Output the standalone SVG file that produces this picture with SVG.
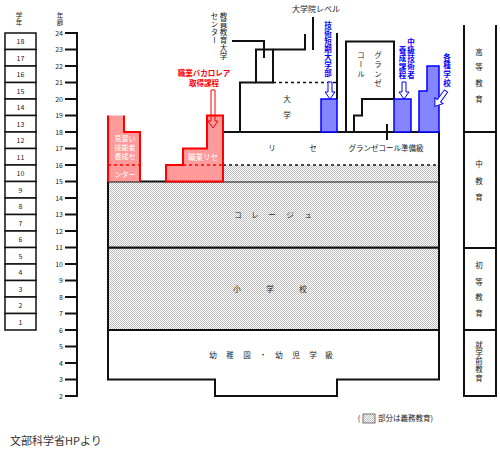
<svg xmlns="http://www.w3.org/2000/svg" width="500" height="454" viewBox="0 0 500 454">
<defs>
<pattern id="dots" width="2" height="2" patternUnits="userSpaceOnUse"><rect width="2" height="2" fill="#fff"/><rect width="1" height="1" fill="#bdbdbd"/><rect x="1" y="1" width="1" height="1" fill="#bdbdbd"/></pattern>
<style>
text{font-family:"Noto Sans CJK JP","Noto Sans",sans-serif;fill:#222}
.num{font-family:"Liberation Sans",Arial,sans-serif;font-size:7px;fill:#333}
.s{font-size:7.5px;text-anchor:middle}
.v{writing-mode:vertical-rl;font-size:7.5px}
.blk{fill:none;stroke:#111;stroke-width:2}
.g{fill:#fff;stroke:#111;stroke-width:1.5}
.red{fill:#ff9a9a;stroke:#ff0000;stroke-width:2}
.blue{fill:#8585ff;stroke:#0000ff;stroke-width:1.5}
.rt{fill:#ff0000;font-weight:bold;font-size:7.5px;text-anchor:middle}
.bt{fill:#0000ff;font-weight:bold}
.wt{fill:#fff;font-size:7px;text-anchor:middle}
.dash{stroke-dasharray:3,3;stroke-width:1.5;fill:none}
</style>
</defs>
<rect width="500" height="454" fill="#fff"/>

<g id="grades">
<text class="v" x="19" y="12" style="font-size:6.5px;letter-spacing:0.5px">学年</text>
<g class="g">
<rect x="5" y="33" width="31" height="16.5"/><rect x="5" y="49.5" width="31" height="16.5"/><rect x="5" y="66" width="31" height="16.5"/><rect x="5" y="82.5" width="31" height="16.5"/><rect x="5" y="99" width="31" height="16.5"/><rect x="5" y="115.5" width="31" height="16.5"/><rect x="5" y="132" width="31" height="16.5"/><rect x="5" y="148.5" width="31" height="16.5"/><rect x="5" y="165" width="31" height="16.5"/><rect x="5" y="181.5" width="31" height="16.5"/><rect x="5" y="198" width="31" height="16.5"/><rect x="5" y="214.5" width="31" height="16.5"/><rect x="5" y="231" width="31" height="16.5"/><rect x="5" y="247.5" width="31" height="16.5"/><rect x="5" y="264" width="31" height="16.5"/><rect x="5" y="280.5" width="31" height="16.5"/><rect x="5" y="297" width="31" height="16.5"/><rect x="5" y="313.5" width="31" height="16.5"/>
</g>
<g class="num" text-anchor="middle">
<text x="20.5" y="44">18</text><text x="20.5" y="60.5">17</text><text x="20.5" y="77">16</text><text x="20.5" y="93.5">15</text><text x="20.5" y="110">14</text><text x="20.5" y="126.5">13</text><text x="20.5" y="143">12</text><text x="20.5" y="159.5">11</text><text x="20.5" y="176">10</text><text x="20.5" y="192.5">9</text><text x="20.5" y="209">8</text><text x="20.5" y="225.5">7</text><text x="20.5" y="242">6</text><text x="20.5" y="258.5">5</text><text x="20.5" y="275">4</text><text x="20.5" y="291.5">3</text><text x="20.5" y="308">2</text><text x="20.5" y="324.5">1</text>
</g>
</g>

<g id="ages">
<text class="v" x="60" y="12" style="font-size:6.5px;letter-spacing:1px">年齢</text>
<path class="blk" d="M77,32 V397 M65,33 H77 M65,49.5 H77 M65,66 H77 M65,82.5 H77 M65,99 H77 M65,115.5 H77 M65,132 H77 M65,148.5 H77 M65,165 H77 M65,181.5 H77 M65,198 H77 M65,214.5 H77 M65,231 H77 M65,247.5 H77 M65,264 H77 M65,280.5 H77 M65,297 H77 M65,313.5 H77 M65,330 H77 M65,346.5 H77 M65,363 H77 M65,379.5 H77 M65,396 H77"/>
<g class="num" text-anchor="end">
<text x="63" y="35.5">24</text><text x="63" y="52">23</text><text x="63" y="68.5">22</text><text x="63" y="85">21</text><text x="63" y="101.5">20</text><text x="63" y="118">19</text><text x="63" y="134.5">18</text><text x="63" y="151">17</text><text x="63" y="167.5">16</text><text x="63" y="184">15</text><text x="63" y="200.5">14</text><text x="63" y="217">13</text><text x="63" y="233.5">12</text><text x="63" y="250">11</text><text x="63" y="266.5">10</text><text x="63" y="283">9</text><text x="63" y="299.5">8</text><text x="63" y="316">7</text><text x="63" y="332.5">6</text><text x="63" y="349">5</text><text x="63" y="365.5">4</text><text x="63" y="382">3</text><text x="63" y="398.5">2</text>
</g>
</g>

<g id="kindergarten">
<path d="M108,330 V379.5 H215 V396 H337 V379.5 H439 V330 Z" fill="#fff" stroke="#111" stroke-width="2"/>
<text class="s" y="358"><tspan x="213">幼</tspan><tspan x="230">稚</tspan><tspan x="247">園</tspan><tspan x="263">・</tspan><tspan x="279">幼</tspan><tspan x="296">児</tspan><tspan x="313">学</tspan><tspan x="329">級</tspan></text>
</g>

<g id="elementary">
<rect x="108" y="247.5" width="331" height="82.5" fill="url(#dots)" stroke="#111" stroke-width="2"/>
<text class="s" y="292"><tspan x="237">小</tspan><tspan x="270">学</tspan><tspan x="303">校</tspan></text>
</g>

<g id="college">
<rect x="108" y="181.5" width="331" height="66" fill="url(#dots)" stroke="#111" stroke-width="2"/>
<text class="s" y="218"><tspan x="238">コ</tspan><tspan x="255">レ</tspan><tspan x="272">ー</tspan><tspan x="290">ジ</tspan><tspan x="308">ュ</tspan></text>
</g>

<g id="lycee">
<rect x="223" y="165" width="216" height="16.5" fill="url(#dots)"/>
<path class="blk" d="M223,132 H439 V181.5"/>
<path class="dash" stroke="#111" d="M223,165 H439"/>
<text class="s" x="272" y="151">リ</text><text class="s" x="313" y="151">セ</text>
<text class="s" x="386" y="151">グランゼコール準備級</text>
</g>

<g id="university">
<path class="blk" d="M240,132 V82.5 H256"/>
<rect x="256" y="49.5" width="17" height="33" fill="#fff" stroke="#111" stroke-width="2"/>
<path class="dash" stroke="#111" d="M273,82.5 H337"/>
<text class="s" x="287" y="102">大</text><text class="s" x="287" y="118">学</text>
</g>

<g id="grandes-ecoles">
<path class="blk" d="M346,132 V41.5 H394 V99 H362 V115.5 H354 V132"/>
<text class="v" x="361" y="51" style="letter-spacing:2px">コール</text>
<text class="v" x="378" y="51" style="letter-spacing:2px">グランゼ</text>
</g>

<g id="apprentice">
<path d="M108,181.5 V115.5 H124 V132 H140 V181.5 Z" fill="#ff9a9a"/>
<path d="M108,181.5 V115.5 M124,115.5 V132 H140 V181.5" fill="none" stroke="#ff0000" stroke-width="2"/>
<path class="dash" stroke="#ff0000" d="M108,165 H140"/>
<text class="wt"><tspan x="125" y="141">見習い</tspan><tspan x="125" y="150">技能者</tspan><tspan x="125" y="159">養成セ</tspan><tspan x="125" y="177">ンター</tspan></text>
</g>

<g id="vocational-lycee">
<path class="red" d="M166,181.5 V165 H183 V148.5 H207 V115.5 H223 V181.5 Z"/>
<path class="dash" stroke="#ff0000" d="M183,165 H223"/>
<text class="wt" x="203" y="160" style="font-size:7.5px">職業リセ</text>
</g>

<g id="bac-pro-label">
<text class="rt" x="204" y="76">職業バカロレア</text>
<text class="rt" x="204" y="86">取得課程</text>
</g>

<g id="teacher-training">
<text class="v" x="223.5" y="12" style="letter-spacing:0.6px">教員教育大学</text>
<text class="v" x="214.5" y="12" style="letter-spacing:0.6px">センター</text>
</g>

<g id="graduate-label">
<text class="s" x="316" y="12" style="font-size:8px">大学院レベル</text>
</g>

<g id="iut">
<rect class="blue" x="321" y="99" width="16" height="33"/>
<text class="v bt" x="328" y="21" style="letter-spacing:0.5px">技術短期大学部</text>
</g>

<g id="bts">
<rect class="blue" x="394" y="99" width="17" height="33"/>
<text class="v bt" x="411" y="38" style="letter-spacing:0.8px">中級技術者</text>
<text class="v bt" x="402.5" y="46.5" style="letter-spacing:0.8px">養成課程</text>
</g>

<g id="misc-schools">
<path class="blue" d="M419,132 V91 H427 V66 H439 V132 Z"/>
<text class="v bt" x="447" y="53" style="letter-spacing:1.2px">各種学校</text>
</g>

<g id="stages">
<path class="blk" d="M464,25 V396 H496 V25 M464,132 H496 M464,248 H496 M464,330 H496"/>
<text class="s" x="479" y="55">高</text><text class="s" x="479" y="70">等</text><text class="s" x="479" y="86">教</text><text class="s" x="479" y="102">育</text>
<text class="s" x="479" y="167">中</text><text class="s" x="479" y="184">教</text><text class="s" x="479" y="200">育</text>
<text class="s" x="479" y="268">初</text><text class="s" x="479" y="285">等</text><text class="s" x="479" y="300">教</text><text class="s" x="479" y="316">育</text>
<text class="v" x="479" y="341" style="letter-spacing:0.8px">就学前教育</text>
</g>

<g id="connectors">
<path class="blk" d="M232,41 H264 V58"/>
<path class="blk" d="M273,49.5 H305 V34"/>
<path class="blk" d="M313,17 V50"/>
<path class="blk" d="M337,33 V99"/>
<path class="blk" stroke-width="1.5" d="M387,124 V140"/>
<path d="M211,90 H215 V121 H218 L213,128 L208,121 H211 Z" fill="none" stroke="#ff0000" stroke-width="1"/>
<path d="M328,82 H332 V92 H335 L330,99 L325,92 H328 Z" fill="#fff" stroke="#0000ff" stroke-width="1"/>
<path d="M402,82 H406 V92 H409 L404,99 L399,92 H402 Z" fill="#fff" stroke="#0000ff" stroke-width="1"/>
<path transform="translate(446,91) rotate(36)" d="M-2,0 H2 V12 H5 L0,19 L-5,12 H-2 Z" fill="#fff" stroke="#0000ff" stroke-width="1"/>
</g>

<g id="legend">
<text class="s" x="359" y="421">(</text>
<rect x="363" y="414" width="12" height="9" fill="url(#dots)" stroke="#555" stroke-width="0.8"/>
<text x="378" y="421" style="font-size:7.5px">部分は義務教育)</text>
</g>

<text x="10" y="445" style="font-size:11px;fill:#333">文部科学省HPより</text>
</svg>
